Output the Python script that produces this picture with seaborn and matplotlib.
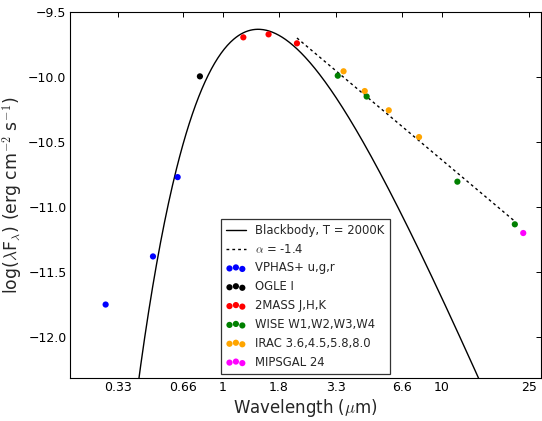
import numpy as np
import pandas as pd
import matplotlib
matplotlib.use("Agg")
import matplotlib.pyplot as plt
import seaborn as sns
from matplotlib.ticker import FixedLocator, FixedFormatter, NullLocator

# ---- data ----
vphas_lam = [0.291, 0.479, 0.621]
vphas_flux = [-11.75, -11.38, -10.77]
ogle_lam = [0.785]
ogle_flux = [-9.995]
tmass_lam = [1.24, 1.617, 2.18]
tmass_flux = [-9.695, -9.672, -9.741]
wise_lam = [3.35, 4.54, 11.8, 21.6]
wise_flux = [-9.99, -10.15, -10.805, -11.133]
irac_lam = [3.56, 4.45, 5.73, 7.88]
irac_flux = [-9.956, -10.108, -10.256, -10.462]
mips_lam = [23.6]
mips_flux = [-11.20]

powerlaw_lam = [2.18, 21.6]
powerlaw_flux = [-9.70, -11.11]
bb_T = 2000.0
bb_peak = -9.633

xtick_vals = [0.33, 0.66, 1, 1.8, 3.3, 6.6, 10, 25]
xtick_labels = ["0.33", "0.66", "1", "1.8", "3.3", "6.6", "10", "25"]
ytick_vals = [-12.0, -11.5, -11.0, -10.5, -10.0, -9.5]

series = [
    ("VPHAS+ u,g,r", vphas_lam, vphas_flux, "#0000ff"),
    ("OGLE I", ogle_lam, ogle_flux, "#000000"),
    ("2MASS J,H,K", tmass_lam, tmass_flux, "#ff0000"),
    ("WISE W1,W2,W3,W4", wise_lam, wise_flux, "#008000"),
    ("IRAC 3.6,4.5,5.8,8.0", irac_lam, irac_flux, "#ffa500"),
    ("MIPSGAL 24", mips_lam, mips_flux, "#ff00ff"),
]

sns.set_style("white")
plt.rcParams["font.family"] = ["DejaVu Sans"]
plt.rcParams["mathtext.fontset"] = "cm"

DPI = 100
fig = plt.figure(figsize=(5.42, 4.21), dpi=DPI)
ax = fig.add_axes([70 / 542, 43 / 421, 470.5 / 542, 366 / 421])

# blackbody model (Planck B_lambda, T = 2000 K)
lam_grid = np.logspace(np.log10(0.2), np.log10(30), 600)
f = -5 * np.log10(lam_grid) - np.log10(np.expm1(14387.77 / (lam_grid * bb_T)))
bb_df = pd.DataFrame({"lam": lam_grid, "flux": f - f.max() + bb_peak})
sns.lineplot(data=bb_df, x="lam", y="flux", ax=ax, color="black", lw=1.0,
             label="Blackbody, T = 2000K", sort=False, estimator=None)

pl_df = pd.DataFrame({"lam": powerlaw_lam, "flux": powerlaw_flux})
sns.lineplot(data=pl_df, x="lam", y="flux", ax=ax, color="black", lw=1.0,
             linestyle=(0, (2.0, 2.2)), label=r"$\alpha$ = -1.4",
             sort=False, estimator=None)

for name, lam, flux, col in series:
    df = pd.DataFrame({"lam": lam, "flux": flux})
    sns.scatterplot(data=df, x="lam", y="flux", ax=ax, color=col, s=20,
                    linewidth=0, edgecolor="none", label=name, zorder=3)

ax.set_xscale("log")
ax.set_xlim(0.2, 28.3)
ax.set_ylim(-12.315, -9.5)
ax.xaxis.set_major_locator(FixedLocator(xtick_vals))
ax.xaxis.set_major_formatter(FixedFormatter(xtick_labels))
ax.xaxis.set_minor_locator(NullLocator())
ax.set_yticks(ytick_vals)

ax.tick_params(axis="both", which="major", direction="in", length=3.5,
               width=0.7, labelsize=9, pad=2.5, top=True, right=True,
               colors="black")
for sp in ax.spines.values():
    sp.set_color("black")
    sp.set_linewidth(0.8)
    sp.set_visible(True)

ax.set_xlabel(r"Wavelength ($\mu$m)", fontsize=12, labelpad=2)
ax.set_ylabel(r"log($\lambda$F$_\lambda$) (erg cm$^{-2}$ s$^{-1}$)",
              fontsize=12.4)
ax.yaxis.set_label_coords(-0.0956, 0.5)

leg = ax.legend(loc="lower center", scatterpoints=3, fontsize=8.4,
                handlelength=1.7, labelspacing=0.5, borderpad=0.45,
                handletextpad=0.8, fancybox=False, frameon=True,
                borderaxespad=0.35)
leg.get_frame().set_edgecolor("black")
leg.get_frame().set_linewidth(0.9)

fig.savefig("out.png", dpi=DPI)
